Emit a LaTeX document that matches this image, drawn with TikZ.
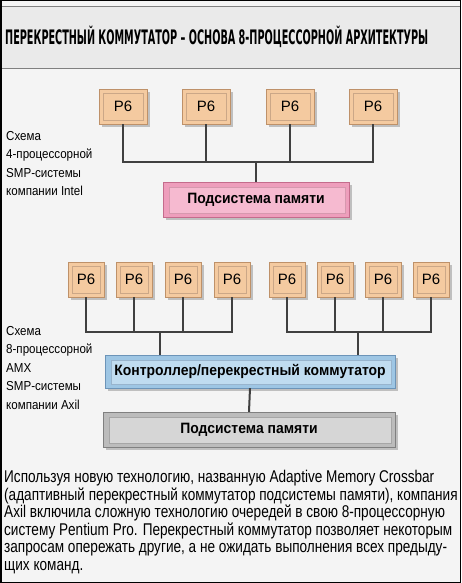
\documentclass[tikz,border=0pt]{standalone}
\usepackage{graphicx}
\usepackage{fontspec}
\setmainfont{Liberation Sans}
\newfontfamily\narrowfont{Liberation Sans}[FakeStretch=0.80]
\newfontfamily\sidefont{Liberation Sans}[FakeStretch=0.89]
\newfontfamily\boxfont{Liberation Sans}[FakeStretch=0.93]
\newfontfamily\titlefont{DejaVu Sans}
\usetikzlibrary{shadows}
\definecolor{bgc}{RGB}{244,244,244}
\definecolor{bandc}{RGB}{234,234,234}
\definecolor{wirec}{RGB}{64,64,64}
\definecolor{cpufill}{RGB}{244,202,160}
\definecolor{cpuline}{RGB}{190,145,105}
\definecolor{memfill}{RGB}{238,158,188}
\definecolor{meminner}{RGB}{246,186,208}
\definecolor{memline}{RGB}{196,108,140}
\definecolor{ctlfill}{RGB}{158,198,228}
\definecolor{ctlinner}{RGB}{192,220,240}
\definecolor{ctlline}{RGB}{108,148,184}
\definecolor{grfill}{RGB}{188,188,188}
\definecolor{grinner}{RGB}{214,214,214}
\definecolor{grline}{RGB}{128,128,128}

\begin{document}
\begin{tikzpicture}[x=1pt,y=-1pt,
  shade box/.style={drop shadow={shadow xshift=3pt,shadow yshift=-3pt,opacity=.45}},
  cpu/.style={draw=cpuline,fill=cpufill,shade box,inner sep=0pt,
              minimum height=35pt,font=\fontsize{15}{15}\selectfont,
              path picture={\draw[cpuline!80] ([shift={(4pt,-4pt)}]path picture bounding box.north west)
                rectangle ([shift={(-4pt,4pt)}]path picture bounding box.south east);}},
  membox/.style={draw=#1line,fill=#1fill,shade box,inner sep=0pt,
              minimum height=35pt,font=\boxfont\bfseries\fontsize{15}{15}\selectfont,
              path picture={\draw[#1line!70,fill=#1inner] ([shift={(6pt,-5pt)}]path picture bounding box.north west)
                rectangle ([shift={(-4pt,4pt)}]path picture bounding box.south east);}},
  side/.style={anchor=north west,inner sep=0pt,align=left,
              font=\sidefont\fontsize{13}{18.5}\selectfont},
  wire/.style={draw=wirec,line width=2pt}
]
\useasboundingbox (0,0) rectangle (461,583);
\fill[bgc] (0,0) rectangle (461,583);
\fill[bandc] (0,7) rectangle (461,69);
\draw[gray,line width=1pt] (0,7) -- (461,7) (0,69) -- (461,69);
\draw[black,line width=1.5pt] (0.75,0.75) rectangle (460.25,582.25);

\node[anchor=base west,inner sep=0pt] (title) at (5,45)
  {\resizebox{423pt}{18.5pt}{\titlefont\bfseries
   ПЕРЕКРЕСТНЫЙ КОММУТАТОР – ОСНОВА 8-ПРОЦЕССОРНОЙ АРХИТЕКТУРЫ}};

\node[side] (intel) at (6,131) {Схема\\4-процессорной\\SMP-системы\\компании Intel};
\node[cpu,minimum width=48pt] (p1) at (123,106.5) {P6};
\node[cpu,minimum width=48pt] (p2) at (206,106.5) {P6};
\node[cpu,minimum width=48pt] (p3) at (290,106.5) {P6};
\node[cpu,minimum width=48pt] (p4) at (373,106.5) {P6};
\node[membox=mem,minimum width=186pt] (mem1) at (256,199.5) {Подсистема памяти};
\coordinate (bus1) at (0,162);
\draw[wire] (p1.south) |- (p4.south |- bus1) -- (p4.south);
\draw[wire] (p2.south) -- (p2.south |- bus1);
\draw[wire] (p3.south) -- (p3.south |- bus1);
\draw[wire] (mem1.north) -- (mem1.north |- bus1);

\node[side] (axil) at (6,326) {Схема\\8-процессорной\\AMX\\SMP-системы\\компании Axil};
\node[cpu,minimum width=36pt] (q1) at (86,279.5) {P6};
\node[cpu,minimum width=36pt] (q2) at (134,279.5) {P6};
\node[cpu,minimum width=36pt] (q3) at (183,279.5) {P6};
\node[cpu,minimum width=36pt] (q4) at (232,279.5) {P6};
\node[cpu,minimum width=36pt] (q5) at (287,279.5) {P6};
\node[cpu,minimum width=36pt] (q6) at (335,279.5) {P6};
\node[cpu,minimum width=36pt] (q7) at (383,279.5) {P6};
\node[cpu,minimum width=36pt] (q8) at (431,279.5) {P6};
\node[membox=ctl,minimum width=290pt,minimum height=33pt] (ctl) at (250,371.5) {Контроллер/перекрестный коммутатор};
\node[membox=gr,minimum width=292pt] (mem2) at (249,429.5) {Подсистема памяти};
\coordinate (bus2) at (0,332);
\coordinate (left) at (160,0);
\coordinate (right) at (358,0);
\draw[wire] (q1.south) |- (q4.south |- bus2) -- (q4.south);
\draw[wire] (q2.south) -- (q2.south |- bus2);
\draw[wire] (q3.south) -- (q3.south |- bus2);
\draw[wire] (q5.south) |- (q8.south |- bus2) -- (q8.south);
\draw[wire] (q6.south) -- (q6.south |- bus2);
\draw[wire] (q7.south) -- (q7.south |- bus2);
\draw[wire] (left |- ctl.north) -- (left |- bus2);
\draw[wire] (right |- ctl.north) -- (right |- bus2);
\draw[wire] (ctl.south) -- (mem2.north);

\node[anchor=north west,inner sep=0pt,align=left,
      font=\narrowfont\fontsize{17}{17.5}\selectfont] (text) at (4,470)
  {Используя новую технологию, названную Adaptive Memory Crossbar\\
   (адаптивный перекрестный коммутатор подсистемы памяти), компания\\
   Axil включила сложную технологию очередей в свою 8-процессорную\\
   систему Pentium Pro. Перекрестный коммутатор позволяет некоторым\\
   запросам опережать другие, а не ожидать выполнения всех предыду-\\
   щих команд.};
\end{tikzpicture}
\end{document}
